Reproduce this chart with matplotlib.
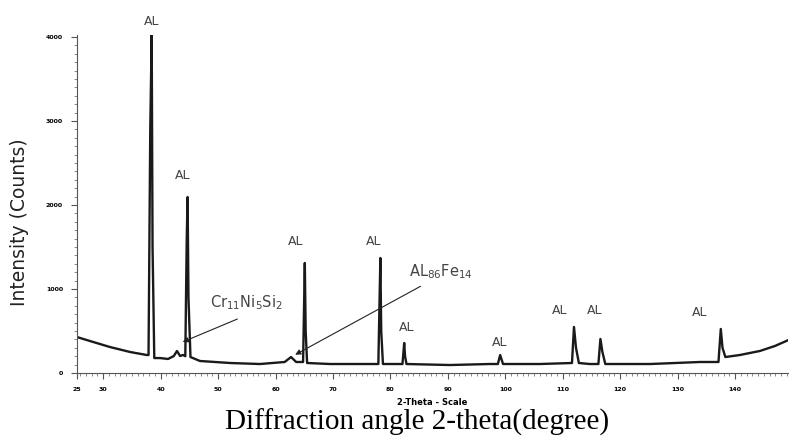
import matplotlib.pyplot as plt
from matplotlib.ticker import MultipleLocator

two_theta = [25.45, 27.7, 31.2, 34.7, 37.6, 37.9, 38.2, 38.45, 38.6, 38.9,
             39.9, 41.3, 42.3, 42.85, 43.4, 43.9, 44.3, 44.55, 44.7, 44.85, 45.2,
             46.85, 52.1, 57.3, 61.6, 62.7, 63.6, 64.8, 65.1, 65.25, 65.5,
             69.5, 76.4, 77.9, 78.25, 78.4, 78.7, 82.1, 82.4, 82.55, 82.8,
             90.35, 97.3, 98.7, 99.1, 99.6,
             106.0, 111.6, 111.95, 112.3, 112.8, 114.7, 116.2, 116.55, 116.9, 117.4,
             125.2, 133.9, 137.1, 137.5, 137.8, 138.3,
             140.8, 144.3, 146.9, 149.3]
counts = [428, 381, 309, 250, 214, 214, 2900, 4024, 1500, 178,
          178, 167, 202, 262, 202, 215, 200, 1600, 2095, 900, 190,
          143, 119, 107, 131, 190, 131, 131, 1310, 500, 119,
          107, 107, 107, 1369, 500, 107, 107, 357, 200, 107,
          95, 107, 107, 214, 107,
          107, 119, 548, 300, 119, 107, 107, 405, 250, 107,
          107, 131, 131, 524, 300, 190,
          214, 262, 321, 393]

# "AL" peak labels: positions
al_x = [38.5, 43.9, 63.56, 77.13, 82.87, 99.0, 109.5, 115.6, 133.9]
al_y = [4179, 2357, 1560, 1560, 536, 369, 750, 750, 726]

x_ticks = [25.5, 30, 40, 50, 60, 70, 80, 90, 100, 110, 120, 130, 140]
y_ticks = [0, 1000, 2000, 3000, 4000]

fig = plt.figure(figsize=(7.89, 4.36), dpi=100)
ax = fig.add_axes([77 / 789, 1 - 373 / 436, 711 / 789, 338 / 436])

ax.plot(two_theta, counts, color='#1a1a1a', lw=1.7, solid_joinstyle='round')

ax.set_xlim(25.45, 149.2)
ax.set_ylim(0, 4024)

for s in ['top', 'right']:
    ax.spines[s].set_visible(False)
for s in ['left', 'bottom']:
    ax.spines[s].set_color('#555555')
    ax.spines[s].set_linewidth(0.8)

ax.set_xticks(x_ticks)
ax.set_xticklabels([str(int(round(v))) if v != 25.5 else '25' for v in x_ticks])
ax.set_yticks(y_ticks)
ax.xaxis.set_minor_locator(MultipleLocator(1))
ax.yaxis.set_minor_locator(MultipleLocator(100))
ax.tick_params(which='major', direction='out', length=4, width=0.8, color='#555555',
               labelsize=4.5, pad=6)
ax.tick_params(which='minor', direction='out', length=2, width=0.6, color='#777777')
for lab in ax.get_xticklabels() + ax.get_yticklabels():
    lab.set_fontweight('bold')

for x, y in zip(al_x, al_y):
    ax.text(x, y, 'AL', ha='center', va='center', fontsize=9, color='#444444')

ax.text(55.0, 833, r'Cr$_{11}$Ni$_5$Si$_2$', ha='center', va='center', fontsize=10.5, color='#444444')
ax.annotate('', xy=(43.4, 357), xytext=(53.8, 655),
            arrowprops=dict(arrowstyle='-|>', lw=0.8, color='#222222', mutation_scale=8))
ax.text(88.8, 1202, r'AL$_{86}$Fe$_{14}$', ha='center', va='center', fontsize=10.5, color='#444444')
ax.annotate('', xy=(63.0, 202), xytext=(85.66, 1048),
            arrowprops=dict(arrowstyle='-|>', lw=0.8, color='#222222', mutation_scale=8))

fig.text(20 / 789, 1 - 222 / 436, 'Intensity (Counts)', rotation=90, ha='center', va='center',
         fontsize=13.5, color='#222222')
fig.text(432 / 789, 1 - 402 / 436, '2-Theta - Scale', ha='center', va='center', fontsize=6,
         fontweight='bold')
fig.text(417 / 789, 1 - 422 / 436, 'Diffraction angle 2-theta(degree)', ha='center', va='center',
         fontsize=21, family='Liberation Serif')

fig.savefig('out.png', dpi=100)
